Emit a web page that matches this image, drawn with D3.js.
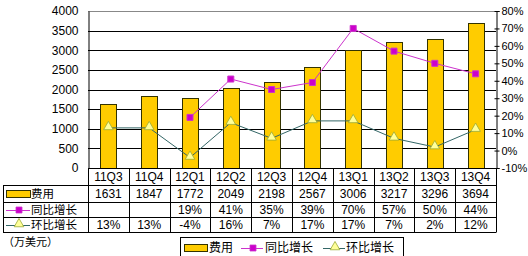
<!DOCTYPE html>
<html>
<head>
<meta charset="utf-8">
<script src="https://cdn.jsdelivr.net/npm/d3@7"></script>
<style>
  body { margin: 0; background: #fff; }
  text { font-family: "Noto Sans CJK SC", "DejaVu Sans", sans-serif; fill: #000; }
  .num { font-family: "Liberation Sans", Arial, sans-serif; }
</style>
</head>
<body>
<svg id="chart" width="528" height="256"></svg>
<script>
var quarters = ['11Q3', '11Q4', '12Q1', '12Q2', '12Q3', '12Q4', '13Q1', '13Q2', '13Q3', '13Q4'];
var cost = [1631, 1847, 1772, 2049, 2198, 2567, 3006, 3217, 3296, 3694];
var yoy = [null, null, 19, 41, 35, 39, 70, 57, 50, 44];
var qoq = [13, 13, -4, 16, 7, 17, 17, 7, 2, 12];
var leftTicks = [0, 500, 1000, 1500, 2000, 2500, 3000, 3500, 4000];
var rightTicks = [-10, 0, 10, 20, 30, 40, 50, 60, 70, 80];
var seriesNames = ['费用', '同比增长', '环比增长'];
var unitLabel = '（万美元）';

var barColor = '#ffcc00';
var yoyColor = '#cc33cc';
var qoqColor = '#336666';

var svg = d3.select('#chart');

var plot = { left: 88, right: 496, top: 11, bottom: 168 };

var x = d3.scaleBand().domain(quarters).range([plot.left, plot.right]);
var yL = d3.scaleLinear().domain([0, 4000]).range([plot.bottom, plot.top]);
var yR = d3.scaleLinear().domain([-10, 80]).range([plot.bottom, plot.top]);

// gridlines
svg.append('g')
  .selectAll('line')
  .data(leftTicks)
  .enter().append('line')
  .attr('x1', plot.left).attr('x2', plot.right)
  .attr('y1', function(d) { return Math.round(yL(d)) + 0.5; })
  .attr('y2', function(d) { return Math.round(yL(d)) + 0.5; })
  .attr('stroke', function(d) { return d == 4000 ? '#888' : '#000'; })
  .attr('stroke-width', 1);

// left axis
var leftAxis = svg.append('g')
  .attr('transform', 'translate(' + (plot.left + 0.5) + ',0)')
  .call(d3.axisLeft(yL).tickValues(leftTicks).tickSize(0).tickPadding(10).tickFormat(d3.format('d')));
leftAxis.select('.domain').attr('stroke', '#000');
leftAxis.selectAll('text')
  .style('font-family', '"Liberation Sans", Arial, sans-serif')
  .style('font-size', '12px').attr('fill', '#000');

// right axis
var rightAxis = svg.append('g')
  .attr('transform', 'translate(' + (plot.right + 0.5) + ',0)')
  .call(d3.axisRight(yR).tickValues(rightTicks).tickSize(3).tickPadding(2)
    .tickFormat(function(d) { return d + '%'; }));
rightAxis.select('.domain').attr('stroke', '#000');
rightAxis.selectAll('.tick line').attr('stroke', '#000').attr('x1', -2);
rightAxis.selectAll('text')
  .style('font-family', '"Liberation Sans", Arial, sans-serif')
  .style('font-size', '11px').attr('fill', '#000');

// bars
var barW = 16;
svg.append('g')
  .selectAll('rect')
  .data(cost)
  .enter().append('rect')
  .attr('x', function(d, i) { return Math.round(x(quarters[i]) + x.bandwidth() / 2 - barW / 2) + 0.5; })
  .attr('y', function(d) { return Math.round(yL(d)) + 0.5; })
  .attr('width', barW)
  .attr('height', function(d) { return Math.round(yL(0)) - Math.round(yL(d)); })
  .attr('fill', barColor)
  .attr('stroke', '#333300')
  .attr('stroke-width', 1);

var cx = function(d, i) { return x(quarters[i]) + x.bandwidth() / 2; };

// yoy line
var yoyLine = d3.line()
  .defined(function(d) { return d != null; })
  .x(function(d, i) { return cx(d, i); })
  .y(function(d) { return yR(d); });
svg.append('path')
  .datum(yoy)
  .attr('d', yoyLine)
  .attr('fill', 'none')
  .attr('stroke', yoyColor)
  .attr('stroke-width', 1);

// qoq line
var qoqLine = d3.line()
  .x(function(d, i) { return cx(d, i); })
  .y(function(d) { return yR(d); });
svg.append('path')
  .datum(qoq)
  .attr('d', qoqLine)
  .attr('fill', 'none')
  .attr('stroke', qoqColor)
  .attr('stroke-width', 1);

var square = d3.symbol().type(d3.symbolSquare).size(36);
var tri = d3.symbol().type(d3.symbolTriangle).size(40);

svg.append('g')
  .selectAll('path')
  .data(yoy.map(function(d, i) { return { v: d, i: i }; }).filter(function(d) { return d.v != null; }))
  .enter().append('path')
  .attr('d', square)
  .attr('transform', function(d) { return 'translate(' + cx(d.v, d.i) + ',' + yR(d.v) + ')'; })
  .attr('fill', '#cc00cc')
  .attr('stroke', '#cc33cc');

svg.append('g')
  .selectAll('path')
  .data(qoq)
  .enter().append('path')
  .attr('d', tri)
  .attr('transform', function(d, i) { return 'translate(' + cx(d, i) + ',' + (yR(d) - 1) + ')'; })
  .attr('fill', '#ffff99')
  .attr('stroke', '#99aa33')
  .attr('stroke-width', 0.8);

// data table
var rows = [168, 185, 202, 217, 232];
var table = svg.append('g').attr('stroke', '#000').attr('stroke-width', 1);
table.append('line').attr('x1', plot.left).attr('x2', plot.right).attr('y1', rows[0] + 0.5).attr('y2', rows[0] + 0.5);
rows.slice(1).forEach(function(r) {
  table.append('line').attr('x1', 3).attr('x2', plot.right).attr('y1', r + 0.5).attr('y2', r + 0.5);
});
quarters.forEach(function(q) {
  table.append('line').attr('x1', Math.round(x(q)) + 0.5).attr('x2', Math.round(x(q)) + 0.5)
    .attr('y1', rows[0]).attr('y2', rows[4] + 0.5);
});
table.append('line').attr('x1', plot.right + 0.5).attr('x2', plot.right + 0.5)
  .attr('y1', rows[0]).attr('y2', rows[4] + 0.5);
table.append('line').attr('x1', 3.5).attr('x2', 3.5).attr('y1', rows[1]).attr('y2', rows[4] + 0.5);

function cellRow(vals, top, fmt) {
  svg.append('g')
    .selectAll('text')
    .data(vals)
    .enter().append('text')
    .attr('class', 'num')
    .attr('x', function(d, i) { return cx(d, i); })
    .attr('y', top + 12)
    .attr('text-anchor', 'middle')
    .style('font-size', '12px')
    .text(function(d) { return d == null ? '' : fmt(d); });
}
cellRow(quarters, rows[0] + 1, function(d) { return d; });
cellRow(cost, rows[1] + 1, function(d) { return d; });
cellRow(yoy, rows[2], function(d) { return d + '%'; });
cellRow(qoq, rows[3], function(d) { return d + '%'; });

// legend samples
function drawKey(g, kind, x0, yMid, w) {
  if (kind == 0) {
    g.append('rect').attr('x', x0 + 0.5).attr('y', yMid - 3.5).attr('width', w).attr('height', 7)
      .attr('fill', barColor).attr('stroke', '#333300');
  } else {
    g.append('line').attr('x1', x0).attr('x2', x0 + w).attr('y1', yMid + 0.5).attr('y2', yMid + 0.5)
      .attr('stroke', kind == 1 ? yoyColor : qoqColor);
    g.append('path')
      .attr('d', kind == 1 ? square : tri)
      .attr('transform', 'translate(' + (x0 + w / 2 + 1) + ',' + (yMid - (kind == 2 ? 1 : 0)) + ')')
      .attr('fill', kind == 1 ? '#cc00cc' : '#ffff99')
      .attr('stroke', kind == 1 ? '#cc33cc' : '#99aa33')
      .attr('stroke-width', 0.8);
  }
}

var keyCol = svg.append('g');
seriesNames.forEach(function(name, i) {
  var yMid = [194, 210, 225][i];
  drawKey(keyCol, i, 6, yMid, 24);
  keyCol.append('text')
    .attr('x', 31)
    .attr('y', yMid + 4)
    .style('font-size', '11.5px')
    .text(name);
});

svg.append('text')
  .attr('x', 3)
  .attr('y', 246)
  .style('font-size', '11px')
  .text(unitLabel);

// bottom legend
var legend = svg.append('g');
legend.append('rect')
  .attr('x', 180.5).attr('y', 237.5).attr('width', 223).attr('height', 24)
  .attr('fill', '#fff').attr('stroke', '#000');
var keyX = [184, 241, 323];
var textX = [209, 265, 346];
seriesNames.forEach(function(name, i) {
  drawKey(legend, i, keyX[i], 248, i == 0 ? 23 : 22);
  legend.append('text')
    .attr('x', textX[i])
    .attr('y', 252)
    .style('font-size', '12px')
    .text(name);
});
</script>
</body>
</html>
